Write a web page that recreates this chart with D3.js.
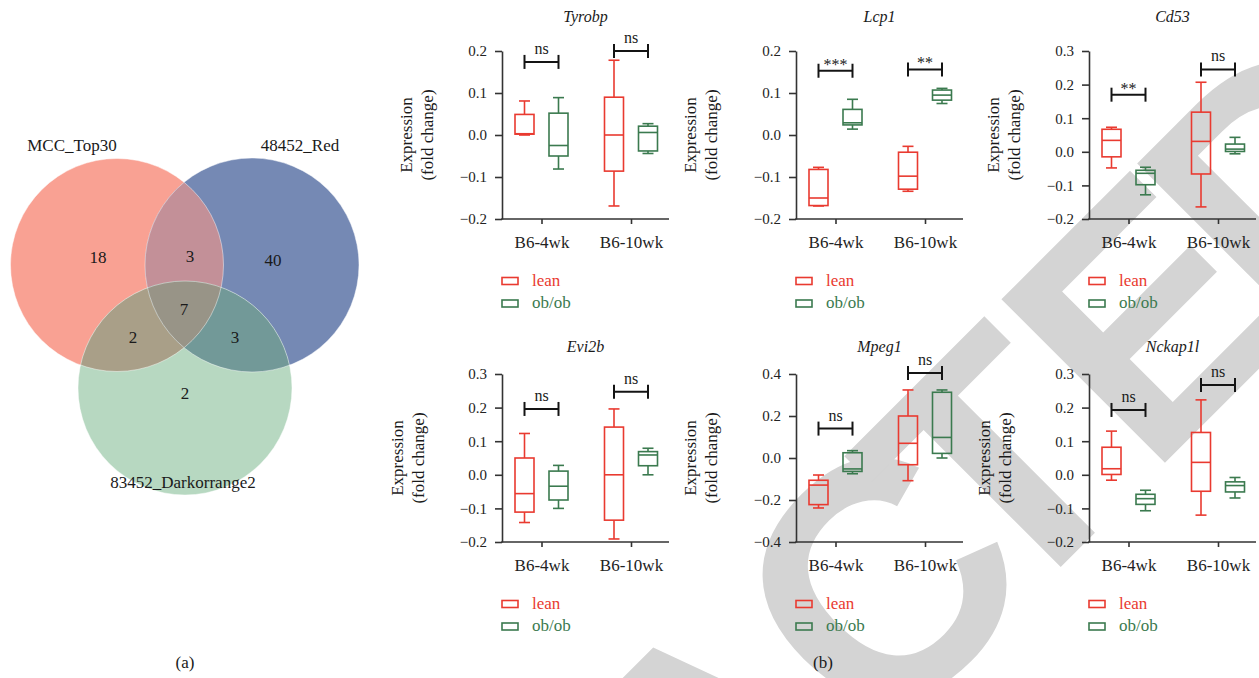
<!DOCTYPE html>
<html>
<head>
<meta charset="utf-8">
<script src="https://cdn.jsdelivr.net/npm/d3@7"></script>
<style>
  html, body { margin: 0; padding: 0; background: #fff; }
  svg { display: block; font-family: "Liberation Serif", "Times New Roman", serif; }
</style>
</head>
<body>
<svg id="fig" width="1259" height="678" font-family="Liberation Serif, Times New Roman, serif"></svg>
<script>
// ---------- Venn diagram data ----------
const vennSetNames = ["MCC_Top30", "48452_Red", "83452_Darkorrange2"];
const vennRegions = ["A", "B", "C", "AB", "AC", "BC", "ABC"];
const vennCounts = [18, 40, 2, 3, 2, 3, 7];

// ---------- Boxplot data ----------
const genes = ["Tyrobp", "Lcp1", "Cd53", "Evi2b", "Mpeg1", "Nckap1l"];
const ages = ["B6-4wk", "B6-10wk"];
const strains = ["lean", "ob/ob"];
// each row: [min, q1, median, q3, max]; order: 4wk lean, 4wk ob/ob, 10wk lean, 10wk ob/ob
const tyrobpStats  = [[0.000, 0.002, 0.003, 0.049, 0.081], [-0.081, -0.050, -0.025, 0.052, 0.089], [-0.169, -0.086, 0.000, 0.090, 0.178], [-0.044, -0.038, 0.006, 0.021, 0.027]];
const lcp1Stats    = [[-0.169, -0.168, -0.150, -0.082, -0.077], [0.014, 0.024, 0.029, 0.061, 0.085], [-0.134, -0.129, -0.098, -0.041, -0.027], [0.075, 0.083, 0.095, 0.107, 0.111]];
const cd53Stats    = [[-0.048, -0.015, 0.034, 0.067, 0.073], [-0.128, -0.098, -0.064, -0.055, -0.046], [-0.164, -0.066, 0.031, 0.118, 0.207], [-0.006, 0.001, 0.008, 0.023, 0.043]];
const evi2bStats   = [[-0.142, -0.111, -0.056, 0.050, 0.123], [-0.100, -0.075, -0.034, 0.011, 0.028], [-0.191, -0.135, 0.000, 0.142, 0.196], [0.000, 0.027, 0.059, 0.069, 0.079]];
const mpeg1Stats   = [[-0.238, -0.222, -0.129, -0.106, -0.081], [-0.075, -0.064, -0.052, 0.025, 0.035], [-0.108, -0.032, 0.070, 0.200, 0.324], [0.000, 0.022, 0.098, 0.313, 0.324]];
const nckap1lStats = [[-0.016, 0.001, 0.018, 0.082, 0.130], [-0.107, -0.088, -0.071, -0.058, -0.046], [-0.120, -0.049, 0.037, 0.126, 0.223], [-0.069, -0.051, -0.032, -0.021, -0.008]];
const geneStats = [tyrobpStats, lcp1Stats, cd53Stats, evi2bStats, mpeg1Stats, nckap1lStats];

const yMin  = [-0.2, -0.2, -0.2, -0.2, -0.4, -0.2];
const yMax  = [0.2, 0.2, 0.3, 0.3, 0.4, 0.3];
const yStep = [0.1, 0.1, 0.1, 0.1, 0.2, 0.1];

// significance per age group (4wk, 10wk) and bracket height in data units
const sigLabels = [["ns", "ns"], ["***", "**"], ["**", "ns"], ["ns", "ns"], ["ns", "ns"], ["ns", "ns"]];
const sigLevels = [[0.174, 0.200], [0.153, 0.156], [0.170, 0.245], [0.196, 0.247], [0.140, 0.405], [0.193, 0.267]];

// ---------- layout ----------
const colX = [502, 796, 1089];
const rowY = [51, 374];
const titleLift = [29, 22];
const plotW = 167, plotH = 168;
const panelCol = [0, 1, 2, 0, 1, 2];
const panelRow = [0, 0, 0, 1, 1, 1];
const yTitleGap = [96, 106, 96, 105, 106, 105];
const strainColor = { "lean": "#e93a30", "ob/ob": "#3b7a4f" };
const strainOffset = { "lean": -17, "ob/ob": 17 };
const boxW = 19, capW = 11;

const svg = d3.select("#fig");

// ---------- light grey diagonal stamp behind the figure ----------
// letters sit on a baseline running up-right at 45 degrees; each letter is
// placed by its ink extent so the glyphs line up regardless of font metrics
const stampWord = "RETRACTED";
const stampFamily = "'Liberation Sans', Arial, sans-serif";
const stampBaseline = 1151;     // along the rotated y axis
const stampCap = 232;           // cap height in px
// anchor: [letter index, "left" | "center", rotated x position]
const stampAnchors = [[4, "center", -25], [5, "center", 212], [6, "center", 373], [7, "left", 495], [8, "left", 687]];
{
  const ctx = document.createElement("canvas").getContext("2d");
  ctx.font = `bold 100px ${stampFamily}`;
  const capPer100 = ctx.measureText("E").actualBoundingBoxAscent || 71.6;
  const fs = stampCap / capPer100 * 100;
  ctx.font = `bold ${fs}px ${stampFamily}`;
  const met = [...stampWord].map(ch => {
    const m = ctx.measureText(ch);
    return { left: -m.actualBoundingBoxLeft, right: m.actualBoundingBoxRight, adv: m.width };
  });
  const xs = new Array(stampWord.length).fill(null);
  stampAnchors.forEach(([i, mode, pos]) => {
    const m = met[i];
    xs[i] = mode === "left" ? pos - m.left : pos - (m.left + m.right) / 2;
  });
  for (let i = stampWord.length - 1; i >= 0; i--) {
    if (xs[i] === null) xs[i] = xs[i + 1] - met[i].adv;
  }
  svg.append("text")
    .attr("transform", "rotate(-45)")
    .attr("x", xs.map(v => v.toFixed(1)).join(" "))
    .attr("y", stampBaseline)
    .attr("font-family", stampFamily)
    .attr("font-weight", "bold")
    .attr("font-size", fs.toFixed(1))
    .attr("fill", "#d4d4d4")
    .text(stampWord);
}

// ---------- (a) Venn diagram ----------
const vennCircles = [
  { cx: 117, cy: 265, r: 106.5 },
  { cx: 252, cy: 265, r: 107 },
  { cx: 185, cy: 388, r: 107 }
];
const vennFill = ["#f9a193", "#7589b4", "#b7d8c1"];
const defs = svg.append("defs");
vennCircles.forEach((c, i) => {
  defs.append("clipPath").attr("id", "vc" + i)
    .append("circle").attr("cx", c.cx).attr("cy", c.cy).attr("r", c.r);
});
const venn = svg.append("g");
venn.selectAll("circle.base").data(vennCircles).join("circle")
  .attr("class", "base")
  .attr("cx", d => d.cx).attr("cy", d => d.cy).attr("r", d => d.r)
  .attr("fill", (d, i) => vennFill[i]);
// pairwise overlaps
const pairs = [[0, 1, "#c39098"], [0, 2, "#a99f88"], [1, 2, "#729998"]];
pairs.forEach(([a, b, col]) => {
  const c = vennCircles[a];
  venn.append("circle").attr("cx", c.cx).attr("cy", c.cy).attr("r", c.r)
    .attr("clip-path", `url(#vc${b})`).attr("fill", col);
});
// triple overlap
{
  const c = vennCircles[0];
  venn.append("g").attr("clip-path", "url(#vc1)")
    .append("circle").attr("cx", c.cx).attr("cy", c.cy).attr("r", c.r)
    .attr("clip-path", "url(#vc2)").attr("fill", "#989487");
}
venn.selectAll("circle.edge").data(vennCircles).join("circle")
  .attr("class", "edge")
  .attr("cx", d => d.cx).attr("cy", d => d.cy).attr("r", d => d.r)
  .attr("fill", "none").attr("stroke", "#ffffff").attr("stroke-opacity", 0.45).attr("stroke-width", 1);

const vennCountPos = { A: [98, 257], B: [273, 260], C: [185, 393], AB: [190, 256], AC: [133, 337], BC: [235, 337], ABC: [184, 309] };
venn.selectAll("text.count").data(vennRegions).join("text")
  .attr("class", "count")
  .attr("x", d => vennCountPos[d][0])
  .attr("y", d => vennCountPos[d][1] + 6)
  .attr("text-anchor", "middle")
  .attr("font-size", 17)
  .attr("fill", "#1a1a1a")
  .text((d, i) => vennCounts[i]);

const vennNamePos = [[72, 151], [300, 151], [183, 488]];
venn.selectAll("text.setname").data(vennSetNames).join("text")
  .attr("class", "setname")
  .attr("x", (d, i) => vennNamePos[i][0])
  .attr("y", (d, i) => vennNamePos[i][1])
  .attr("text-anchor", "middle")
  .attr("font-size", 17)
  .attr("fill", "#1a1a1a")
  .text(d => d);

svg.append("text").attr("x", 185).attr("y", 668).attr("text-anchor", "middle")
  .attr("font-size", 17).attr("fill", "#1a1a1a").text("(a)");
svg.append("text").attr("x", 823).attr("y", 668).attr("text-anchor", "middle")
  .attr("font-size", 17).attr("fill", "#1a1a1a").text("(b)");

// ---------- (b) boxplot panels ----------
const fmt = d3.format(".1f");
const serif = "Liberation Serif, Times New Roman, serif";

genes.forEach((gene, gi) => {
  const x0 = colX[panelCol[gi]];
  const y0 = rowY[panelRow[gi]];
  const g = svg.append("g");

  const y = d3.scaleLinear().domain([yMin[gi], yMax[gi]]).range([y0 + plotH, y0]);
  const x = d3.scalePoint().domain(ages).range([x0 + 39.5, x0 + 129]);

  // y axis
  const nT = Math.round((yMax[gi] - yMin[gi]) / yStep[gi]);
  const tv = d3.range(nT + 1).map(k => +(yMin[gi] + k * yStep[gi]).toFixed(3));
  const ya = g.append("g").attr("transform", `translate(${x0},0)`)
    .call(d3.axisLeft(y).tickValues(tv).tickFormat(fmt).tickSize(7).tickSizeOuter(0).tickPadding(8));
  ya.attr("font-family", serif);
  ya.select(".domain").attr("stroke", "#333").attr("stroke-width", 1.6);
  ya.selectAll(".tick line").attr("stroke", "#333").attr("stroke-width", 1.6);
  ya.selectAll(".tick text").attr("font-size", 15).attr("fill", "#222");

  // x axis
  const xa = g.append("g").attr("transform", `translate(0,${y0 + plotH})`)
    .call(d3.axisBottom(x).tickSize(5).tickSizeOuter(0).tickPadding(12));
  xa.attr("font-family", serif);
  xa.select(".domain").remove();
  xa.selectAll(".tick line").attr("stroke", "#333").attr("stroke-width", 1.6);
  xa.selectAll(".tick text").attr("font-size", 17).attr("fill", "#222");
  g.append("line")
    .attr("x1", x0 - 0.8).attr("x2", x0 + plotW)
    .attr("y1", y0 + plotH).attr("y2", y0 + plotH)
    .attr("stroke", "#333").attr("stroke-width", 1.6);

  // title
  g.append("text")
    .attr("x", x0 + plotW / 2).attr("y", y0 - titleLift[panelRow[gi]])
    .attr("text-anchor", "middle").attr("font-style", "italic")
    .attr("font-size", 16).attr("fill", "#1a1a1a").text(gene);

  // y axis title (two lines)
  const yc = y0 + plotH / 2;
  const xt = x0 - yTitleGap[gi];
  [["Expression", 0], ["(fold change)", 21]].forEach(([t, dx]) => {
    g.append("text")
      .attr("transform", `translate(${xt + dx},${yc}) rotate(-90)`)
      .attr("text-anchor", "middle").attr("dominant-baseline", "central")
      .attr("font-size", 17).attr("fill", "#1a1a1a").text(t);
  });

  // boxes
  const rows = [];
  ages.forEach((age, ai) => strains.forEach((st, si) => {
    const s = geneStats[gi][ai * 2 + si];
    rows.push({ age, st, min: s[0], q1: s[1], med: s[2], q3: s[3], max: s[4] });
  }));
  const bx = g.selectAll("g.box").data(rows).join("g").attr("class", "box")
    .attr("stroke", d => strainColor[d.st]).attr("stroke-width", 1.6).attr("fill", "none");
  const cx = d => x(d.age) + strainOffset[d.st];
  bx.append("line").attr("x1", cx).attr("x2", cx).attr("y1", d => y(d.max)).attr("y2", d => y(d.q3));
  bx.append("line").attr("x1", cx).attr("x2", cx).attr("y1", d => y(d.q1)).attr("y2", d => y(d.min));
  bx.append("line").attr("x1", d => cx(d) - capW / 2).attr("x2", d => cx(d) + capW / 2).attr("y1", d => y(d.max)).attr("y2", d => y(d.max));
  bx.append("line").attr("x1", d => cx(d) - capW / 2).attr("x2", d => cx(d) + capW / 2).attr("y1", d => y(d.min)).attr("y2", d => y(d.min));
  bx.append("rect").attr("x", d => cx(d) - boxW / 2).attr("width", boxW)
    .attr("y", d => y(d.q3)).attr("height", d => Math.max(0.5, y(d.q1) - y(d.q3)));
  bx.append("line").attr("x1", d => cx(d) - boxW / 2).attr("x2", d => cx(d) + boxW / 2).attr("y1", d => y(d.med)).attr("y2", d => y(d.med));

  // significance brackets
  ages.forEach((age, ai) => {
    const by = y(sigLevels[gi][ai]);
    const xl = x(age) + strainOffset["lean"], xr = x(age) + strainOffset["ob/ob"];
    const br = g.append("g").attr("stroke", "#141414").attr("stroke-width", 2);
    br.append("line").attr("x1", xl).attr("x2", xr).attr("y1", by).attr("y2", by);
    br.append("line").attr("x1", xl).attr("x2", xl).attr("y1", by - 7).attr("y2", by + 7);
    br.append("line").attr("x1", xr).attr("x2", xr).attr("y1", by - 7).attr("y2", by + 7);
    const lab = sigLabels[gi][ai];
    g.append("text").attr("x", (xl + xr) / 2)
      .attr("y", lab === "ns" ? by - 8 : by - 1)
      .attr("text-anchor", "middle").attr("font-size", 16).attr("fill", "#1a1a1a").text(lab);
  });

  // legend
  const lg = g.append("g");
  strains.forEach((st, si) => {
    const ly = y0 + plotH + 62 + si * 22.5;
    lg.append("rect").attr("x", x0).attr("y", ly - 3.5).attr("width", 16).attr("height", 7)
      .attr("fill", "none").attr("stroke", strainColor[st]).attr("stroke-width", 1.6);
    lg.append("text").attr("x", x0 + 30).attr("y", ly + 4.5)
      .attr("font-size", 17).attr("fill", strainColor[st]).text(st);
  });
});
</script>
</body>
</html>
